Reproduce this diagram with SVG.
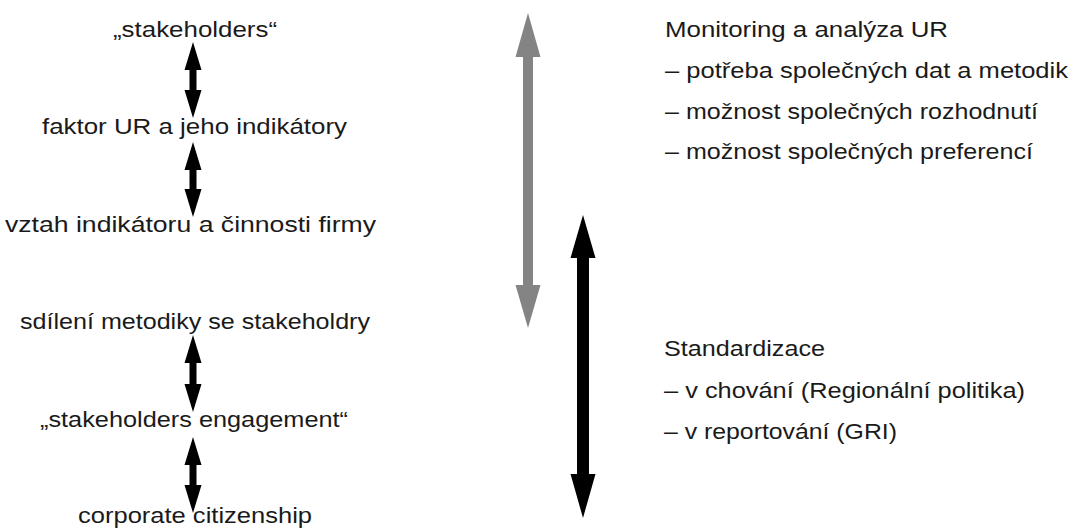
<svg xmlns="http://www.w3.org/2000/svg" width="1075" height="529" viewBox="0 0 1075 529">
<style>
  .t { font-family: "Liberation Sans", Arial, sans-serif; font-size: 22px; fill: #1a1a1a; }
  .blk { fill: #000; }
  .gry { fill: #848484; }
</style>
<rect width="1075" height="529" fill="#fff"/>
<g id="connectors">
  <path class="blk" d="M193,42 L201.5,70 L196.5,70 L196.5,90 L201.5,90 L193,118 L184.5,90 L189.5,90 L189.5,70 L184.5,70 Z"/>
  <path class="blk" d="M193,142 L201.5,170 L196.5,170 L196.5,189 L201.5,189 L193,217 L184.5,189 L189.5,189 L189.5,170 L184.5,170 Z"/>
  <path class="blk" d="M193,335 L201.5,363 L196.5,363 L196.5,384 L201.5,384 L193,412 L184.5,384 L189.5,384 L189.5,363 L184.5,363 Z"/>
  <path class="blk" d="M193,437 L201.5,465 L196.5,465 L196.5,485 L201.5,485 L193,513 L184.5,485 L189.5,485 L189.5,465 L184.5,465 Z"/>
  <path id="gray-arrow" class="gry" d="M528,13 L540.5,57 L533,57 L533,285 L540.5,285 L528,328 L515.5,285 L523,285 L523,57 L515.5,57 Z"/>
  <path id="black-arrow" class="blk" d="M583,215 L595.5,258 L589,258 L589,474 L595.5,474 L583,518 L570.5,474 L577,474 L577,258 L570.5,258 Z"/>
</g>
<g id="n1"><text class="t" x="113" y="37" textLength="164" lengthAdjust="spacingAndGlyphs">„stakeholders“</text></g>
<g id="n2"><text class="t" x="42" y="134" textLength="305" lengthAdjust="spacingAndGlyphs">faktor UR a jeho indikátory</text></g>
<g id="n3"><text class="t" x="5" y="232" textLength="371" lengthAdjust="spacingAndGlyphs">vztah indikátoru a činnosti firmy</text></g>
<g id="n4"><text class="t" x="20" y="329" textLength="350" lengthAdjust="spacingAndGlyphs">sdílení metodiky se stakeholdry</text></g>
<g id="n5"><text class="t" x="40" y="427" textLength="308" lengthAdjust="spacingAndGlyphs">„stakeholders engagement“</text></g>
<g id="n6"><text class="t" x="78" y="523" textLength="234" lengthAdjust="spacingAndGlyphs">corporate citizenship</text></g>
<g id="monitoring">
  <text class="t" x="665" y="37" textLength="283" lengthAdjust="spacingAndGlyphs">Monitoring a analýza UR</text>
  <text class="t" x="665" y="78" textLength="403" lengthAdjust="spacingAndGlyphs">– potřeba společných dat a metodik</text>
  <text class="t" x="665" y="119" textLength="373" lengthAdjust="spacingAndGlyphs">– možnost společných rozhodnutí</text>
  <text class="t" x="665" y="159" textLength="368" lengthAdjust="spacingAndGlyphs">– možnost společných preferencí</text>
</g>
<g id="standardizace">
  <text class="t" x="664" y="356" textLength="161" lengthAdjust="spacingAndGlyphs">Standardizace</text>
  <text class="t" x="664" y="398" textLength="361" lengthAdjust="spacingAndGlyphs">– v chování (Regionální politika)</text>
  <text class="t" x="664" y="439" textLength="233" lengthAdjust="spacingAndGlyphs">– v reportování (GRI)</text>
</g>
</svg>
